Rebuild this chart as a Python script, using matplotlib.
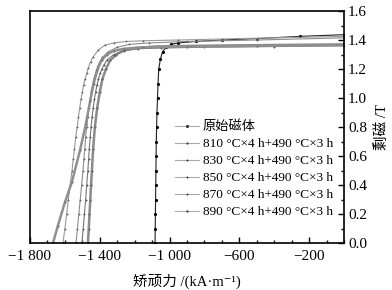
import matplotlib
matplotlib.use("Agg")
import matplotlib.pyplot as plt
from matplotlib.ticker import FixedLocator, MultipleLocator

plt.rcParams['font.family'] = ['Liberation Serif', 'Noto Sans CJK SC', 'DejaVu Sans']
plt.rcParams['font.size'] = 10

# original magnet
h_orig = [-1083, -1082, -1081, -1080, -1079, -1078, -1077, -1076, -1074, -1072, -1069, -1066, -1062,
          -1052, -1040, -1020, -990, -950, -850, -700, -500, -250, 0]
b_orig = [0.0, 0.1, 0.2, 0.3, 0.4, 0.5, 0.6, 0.7, 0.8, 0.9, 1.0, 1.1, 1.2,
          1.27, 1.32, 1.35, 1.37, 1.38, 1.39, 1.40, 1.41, 1.425, 1.437]

# 810 C x4 h + 490 C x3 h
h_810 = [-1468, -1463, -1459, -1454, -1450, -1445, -1438, -1428, -1415, -1400, -1385, -1365, -1340, -1305,
         -1260, -1190, -1080, -850, -450, 0]
b_810 = [0.0, 0.1, 0.2, 0.3, 0.4, 0.5, 0.65, 0.8, 0.93, 1.04, 1.13, 1.2, 1.26, 1.3,
         1.33, 1.345, 1.355, 1.36, 1.365, 1.37]

# 830
h_830 = [-1502, -1495, -1488, -1481, -1475, -1468, -1464, -1460, -1455, -1450, -1444, -1438, -1431,
         -1424, -1416, -1408, -1398, -1388, -1375, -1360, -1320,
         -1260, -1180, -1050, -800, -400, 0]
b_830 = [0.0, 0.1, 0.2, 0.3, 0.4, 0.5, 0.58, 0.65, 0.73, 0.8, 0.87, 0.93, 0.99,
         1.04, 1.09, 1.13, 1.17, 1.2, 1.23, 1.26, 1.3,
         1.325, 1.34, 1.345, 1.35, 1.355, 1.36]

# 850
h_850 = [-1536, -1528, -1520, -1512, -1504, -1496, -1491, -1486, -1481, -1475, -1469, -1462, -1455,
         -1448, -1440, -1432, -1422, -1412, -1400, -1385, -1350,
         -1300, -1230, -1120, -900, -500, 0]
b_850 = [0.0, 0.1, 0.2, 0.3, 0.4, 0.5, 0.58, 0.65, 0.73, 0.8, 0.87, 0.93, 0.99,
         1.05, 1.1, 1.14, 1.18, 1.22, 1.25, 1.28, 1.32,
         1.35, 1.37, 1.38, 1.39, 1.40, 1.415]

# 870
h_870 = [-1611, -1600, -1590, -1580, -1570, -1559, -1552, -1545, -1538, -1530, -1522, -1515, -1508,
         -1500, -1493, -1485, -1475, -1465, -1453, -1440, -1410,
         -1370, -1320, -1250, -1150, -950, -600, 0]
b_870 = [0.0, 0.1, 0.2, 0.3, 0.4, 0.5, 0.58, 0.65, 0.73, 0.8, 0.87, 0.93, 0.99,
         1.04, 1.09, 1.13, 1.17, 1.21, 1.25, 1.28, 1.33,
         1.365, 1.38, 1.39, 1.395, 1.40, 1.41, 1.425]

# 890
h_890 = [-1668, -1640, -1600, -1560, -1513, -1480, -1455, -1435, -1415, -1390, -1360, -1320,
         -1260, -1150, -900, -500, 0]
b_890 = [0.0, 0.12, 0.28, 0.42, 0.64, 0.82, 0.98, 1.10, 1.19, 1.26, 1.30, 1.325,
         1.34, 1.35, 1.355, 1.36, 1.365]

labels = ['原始磁体',
          '810 °C×4 h+490 °C×3 h',
          '830 °C×4 h+490 °C×3 h',
          '850 °C×4 h+490 °C×3 h',
          '870 °C×4 h+490 °C×3 h',
          '890 °C×4 h+490 °C×3 h']

xticks = [-1800, -1400, -1000, -600, -200]
xticklabels = ['−1 800', '−1 400', '−1 000', '−600', '−200']

fig = plt.figure(figsize=(3.92, 2.9), dpi=100)
ax = fig.add_axes([0.0765, 0.162, 0.801, 0.8])

ax.plot(h_orig, b_orig, color='#222222', lw=0.8, marker='.', ms=2.5, mec='black', label=labels[0])
ax.plot(h_810, b_810, color='#8a8a8a', lw=1.8, marker='.', ms=1.2, mec='#666666', label=labels[1])
ax.plot(h_830, b_830, color='#777777', lw=0.8, marker='+', ms=2.0, mew=0.7, mec='#555555', label=labels[2])
ax.plot(h_850, b_850, color='#8c8c8c', lw=0.8, marker='+', ms=2.0, mew=0.7, mec='#6a6a6a', label=labels[3])
ax.plot(h_870, b_870, color='#9a9a9a', lw=0.8, marker='+', ms=2.0, mew=0.7, mec='#6a6a6a', label=labels[4])
ax.plot(h_890, b_890, color='#8f8f8f', lw=1.8, marker='.', ms=1.2, mec='#777777', label=labels[5])

ax.set_xlim(-1800, 0)
ax.set_ylim(0, 1.6)
ax.xaxis.set_major_locator(FixedLocator(xticks))
ax.set_xticklabels(xticklabels)
ax.xaxis.set_minor_locator(MultipleLocator(100))
ax.yaxis.set_major_locator(MultipleLocator(0.2))
ax.yaxis.set_minor_locator(MultipleLocator(0.1))
ax.yaxis.set_major_formatter(matplotlib.ticker.FormatStrFormatter('%.1f'))
ax.yaxis.tick_right()
ax.yaxis.set_label_position('right')
ax.tick_params(which='both', direction='in', top=False, left=False, right=True, bottom=True,
               labelsize=11)
ax.tick_params(axis='x', pad=5)
ax.tick_params(axis='y', pad=3)
ax.tick_params(which='major', length=4, width=1)
ax.tick_params(which='minor', length=2.5, width=1)
for s in ax.spines.values():
    s.set_linewidth(1.2)

ax.set_xlabel('矫顽力 /(kA·m⁻¹)', fontsize=10.5, labelpad=8)
ax.set_ylabel('剩磁 /T', fontsize=10.5, labelpad=6)

leg = ax.legend(loc='upper left', bbox_to_anchor=(0.445, 0.55), frameon=False, numpoints=1,
                handlelength=1.8, handletextpad=0.3, labelspacing=0.36, borderaxespad=0,
                fontsize=9.5)
for line in leg.get_lines():
    line.set_linewidth(0.8)
    line.set_color('#aaaaaa')
    line.set_markeredgecolor('#333333')

fig.savefig('out.png', dpi=100)
